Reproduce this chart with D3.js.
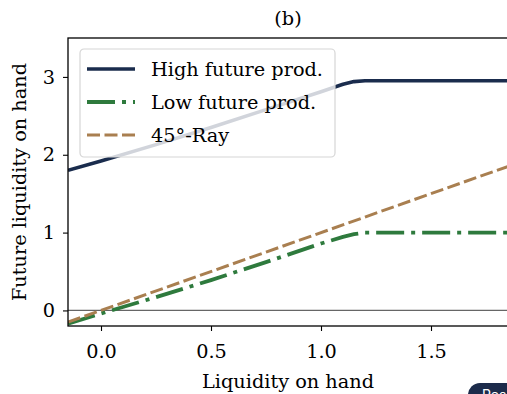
<!DOCTYPE html>
<html>
<head>
<meta charset="utf-8">
<script src="https://cdn.jsdelivr.net/npm/d3@7"></script>
<style>
  body { margin: 0; background: #fff; overflow: hidden; }
  svg { display: block; font-family: "DejaVu Serif", serif; }
</style>
</head>
<body>
<svg id="chart" width="507" height="394"></svg>
<script>
// values
const liquidity = [-0.15, 0, 0.25, 0.5, 0.75, 1.0, 1.1, 1.15, 1.2, 1.85];
const highProd = [1.80, 1.92, 2.13, 2.35, 2.58, 2.81, 2.905, 2.94, 2.95, 2.95];
const lowProd = [-0.17, -0.04, 0.17, 0.39, 0.62, 0.86, 0.945, 0.98, 1.0, 1.0];
const rayX = [-0.15, 1.85];
const xTicks = [0, 0.5, 1.0, 1.5];
const yTicks = [0, 1, 2, 3];
const seriesNames = ["High future prod.", "Low future prod.", "45°-Ray"];

const margin = { top: 38, left: 68 };
const width = 440, height = 288;
const fontSize = 19.3;

const svg = d3.select("#chart");
const g = svg.append("g").attr("transform", `translate(${margin.left},${margin.top})`);

const x = d3.scaleLinear().domain([-0.15, 1.85]).range([0, width]);
const y = d3.scaleLinear().domain([-0.2, 3.5]).range([height, 0]);

const styles = [
  { color: "#1a2c4d", width: 3.6, dash: null },
  { color: "#2e7a3d", width: 3.8, dash: "28,7,4,7" },
  { color: "#a97f50", width: 3, dash: "13,4.5" }
];

g.append("clipPath").attr("id", "clip")
  .append("rect").attr("width", width).attr("height", height);

// zero line
g.append("line")
  .attr("x1", 0).attr("x2", width)
  .attr("y1", y(0)).attr("y2", y(0))
  .attr("stroke", "#666").attr("stroke-width", 1.2);

const line = d3.line().x(d => x(d[0])).y(d => y(d[1]));
const series = [
  d3.zip(liquidity, highProd),
  d3.zip(liquidity, lowProd),
  rayX.map(v => [v, v])
];

const plot = g.append("g").attr("clip-path", "url(#clip)");
series.forEach((s, i) => {
  plot.append("path")
    .datum(s)
    .attr("d", line)
    .attr("fill", "none")
    .attr("stroke", styles[i].color)
    .attr("stroke-width", styles[i].width)
    .attr("stroke-linejoin", "round")
    .attr("stroke-dasharray", styles[i].dash);
});

// axes
const xAxis = g.append("g")
  .attr("transform", `translate(0,${height})`)
  .call(d3.axisBottom(x).tickValues(xTicks).tickFormat(d3.format(".1f")).tickSize(5).tickPadding(8));
const yAxis = g.append("g")
  .call(d3.axisLeft(y).tickValues(yTicks).tickFormat(d3.format("d")).tickSize(5).tickPadding(8));

[xAxis, yAxis].forEach(a => {
  a.select(".domain").remove();
  a.selectAll("line").attr("stroke", "#000").attr("stroke-width", 1.1);
  a.selectAll("text").attr("font-size", fontSize).attr("fill", "#000")
    .attr("font-family", "DejaVu Serif");
});
xAxis.selectAll("text").attr("dy", "1.0em");

// spines (right spine falls outside the window)
g.append("rect")
  .attr("width", width).attr("height", height)
  .attr("fill", "none").attr("stroke", "#000").attr("stroke-width", 1.3);

// labels
svg.append("text").attr("x", 288).attr("y", 25)
  .attr("text-anchor", "middle").attr("font-size", fontSize).text("(b)");
svg.append("text").attr("x", 288).attr("y", 388)
  .attr("text-anchor", "middle").attr("font-size", fontSize).text("Liquidity on hand");
svg.append("text")
  .attr("transform", "translate(26,182) rotate(-90)")
  .attr("text-anchor", "middle").attr("font-size", fontSize).text("Future liquidity on hand");

// legend
const legend = svg.append("g").attr("transform", "translate(80,49)");
legend.append("rect")
  .attr("width", 255).attr("height", 108).attr("rx", 4)
  .attr("fill", "#fff").attr("fill-opacity", 0.8)
  .attr("stroke", "#d6d6d6").attr("stroke-width", 1.2);
seriesNames.forEach((name, i) => {
  const ry = 20 + i * 33;
  legend.append("line")
    .attr("x1", 7).attr("x2", 55).attr("y1", ry).attr("y2", ry)
    .attr("stroke", styles[i].color)
    .attr("stroke-width", styles[i].width)
    .attr("stroke-dasharray", styles[i].dash);
  legend.append("text")
    .attr("x", 71).attr("y", ry + 7)
    .attr("font-size", fontSize).text(name);
});

// overlay button cut off at the corner
const btn = svg.append("g").attr("transform", "translate(468,383)");
btn.append("rect").attr("width", 70).attr("height", 30).attr("rx", 12).attr("fill", "#1c2b4b");
btn.append("text").attr("x", 14).attr("y", 17)
  .attr("font-family", "Inter, sans-serif").attr("font-size", 14)
  .attr("fill", "#fff").text("Reset");
</script>
</body>
</html>
